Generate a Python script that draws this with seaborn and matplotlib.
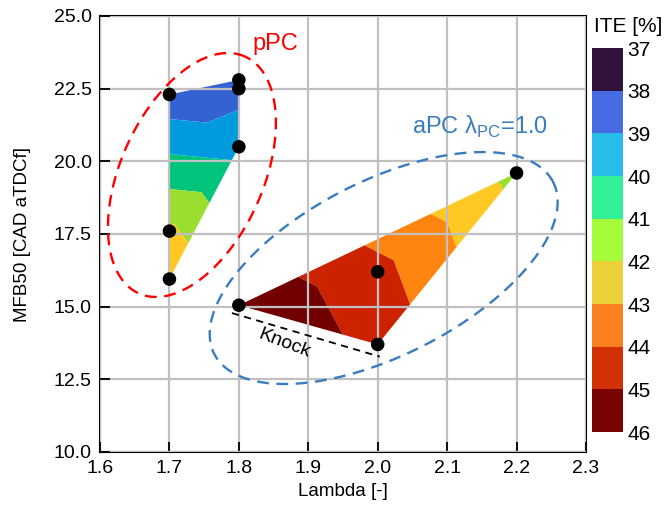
import numpy as np
import matplotlib
matplotlib.use("Agg")
import matplotlib.pyplot as plt
import matplotlib.tri as mtri
import matplotlib.colors as mcolors
import seaborn as sns

# pPC operating points (lambda, MFB50, ITE)
ppc_lambda = [1.7, 1.8, 1.8, 1.8, 1.7, 1.7]
ppc_mfb50 = [22.3, 22.8, 22.5, 20.5, 17.6, 15.95]
ppc_ite = [38.3, 38.5, 38.66, 39.6, 42.2, 42.9]

# aPC operating points (lambda_PC = 1.0)
apc_lambda = [1.8, 2.0, 2.0, 2.2]
apc_mfb50 = [15.05, 16.2, 13.7, 19.6]
apc_ite = [45.9, 44.3, 44.7, 41.7]

ite_levels = [37, 38, 39, 40, 41, 42, 43, 44, 45, 46]
fill_colors = ['#2c0c48', '#3462d2', '#009ade', '#00c47c', '#9ade30',
               '#ffc822', '#ff8410', '#cc2200', '#720000']
cbar_colors = ['#30123b', '#466be3', '#28bceb', '#32f298', '#a4fc3b',
               '#edcf39', '#fb8022', '#d23105', '#7a0403']

x_ticks = [1.6, 1.7, 1.8, 1.9, 2.0, 2.1, 2.2, 2.3]
y_ticks = [10.0, 12.5, 15.0, 17.5, 20.0, 22.5, 25.0]

sns.set_style("white", {'xtick.bottom': True, 'ytick.left': True,
                        'axes.labelcolor': 'black', 'text.color': 'black',
                        'xtick.color': 'black', 'ytick.color': 'black'})
plt.rcParams['font.family'] = ['Liberation Sans', 'DejaVu Sans']
plt.rcParams['mathtext.fontset'] = 'custom'
plt.rcParams['mathtext.rm'] = 'Liberation Sans'

fig = plt.figure(figsize=(6.66, 5.13), dpi=100)
ax = fig.add_axes([100 / 666, 61 / 513, 486 / 666, 436 / 513])
cax = fig.add_axes([592 / 666, 81 / 513, 31 / 666, 384 / 513])

ax.set_xlim(1.6, 2.3)
ax.set_ylim(10.0, 25.0)

# pixels per data unit, used for the annotation ellipses
px_x = 486 / 0.7
px_y = 436 / 15.0


def triangulate(xs, ys):
    xs = np.asarray(xs)
    ys = np.asarray(ys)
    tri = mtri.Triangulation(xs * px_x / px_y, ys)
    return mtri.Triangulation(xs, ys, tri.triangles)


for xs, ys, zs in [(ppc_lambda, ppc_mfb50, ppc_ite), (apc_lambda, apc_mfb50, apc_ite)]:
    ax.tricontourf(triangulate(xs, ys), zs, levels=ite_levels,
                   colors=fill_colors, antialiased=True, zorder=1)

ax.grid(True, color='#c0c0c0', linewidth=1.6)
ax.set_axisbelow(False)


def ellipse(cx, cy, a, b, phi_deg, color):
    t = np.linspace(0, 2 * np.pi, 300)
    phi = np.deg2rad(phi_deg)
    dx = a * np.cos(t) * np.cos(phi) - b * np.sin(t) * np.sin(phi)
    dy = a * np.cos(t) * np.sin(phi) + b * np.sin(t) * np.cos(phi)
    ax.plot(cx + dx / px_x, cy + dy / px_y, color=color, lw=1.7,
            dashes=(5, 3.2), zorder=3)


ellipse(1.7324, 19.53, 129.8, 71.3, 65.85, '#ff0000')
ellipse(2.0086, 16.33, 190.0, 87.3, 26.9, '#3a7cc0')

# knock limit
ax.plot([1.79, 2.003], [14.78, 13.28], color='black', lw=1.3, dashes=(4, 3), zorder=3)
ax.text(1.865, 13.74, 'Knock', rotation=-21, fontsize=14, ha='center', va='center', zorder=4)

ax.text(1.82, 23.83, 'pPC', color='#ff0000', fontsize=17, va='baseline')
ax.text(2.05, 20.95, r'aPC λ$_{\rm PC}$=1.0', color='#3a7cc0', fontsize=17, va='baseline')

sns.scatterplot(x=ppc_lambda + apc_lambda, y=ppc_mfb50 + apc_mfb50, ax=ax,
                color='black', s=95, edgecolor='none', zorder=5, legend=False)

ax.set_xticks(x_ticks)
ax.set_xticklabels([f'{v:.1f}' for v in x_ticks])
ax.set_yticks(y_ticks)
ax.set_yticklabels([f'{v:.1f}' for v in y_ticks])
ax.tick_params(direction='in', length=7, width=1.3, labelsize=14, color='black',
               labelcolor='black', pad=6)
ax.set_xlabel('Lambda [-]', fontsize=13.5, labelpad=4)
ax.set_ylabel('MFB50 [CAD aTDCf]', fontsize=13.5, labelpad=16)
for spine in ax.spines.values():
    spine.set_color('black')
    spine.set_linewidth(1.5)

# colorbar
cmap = mcolors.ListedColormap(cbar_colors)
norm = mcolors.BoundaryNorm(ite_levels, cmap.N)
cb = fig.colorbar(plt.cm.ScalarMappable(norm=norm, cmap=cmap), cax=cax,
                  ticks=ite_levels, spacing='proportional')
cb.outline.set_visible(False)
cax.invert_yaxis()
cax.tick_params(length=0, labelsize=15, pad=3, labelcolor='black')
cax.set_yticklabels([str(v) for v in ite_levels])
fig.text(594 / 666, 1 - 26 / 513, 'ITE [%]', fontsize=15, ha='left', va='center')

fig.savefig('out.png', dpi=100)
